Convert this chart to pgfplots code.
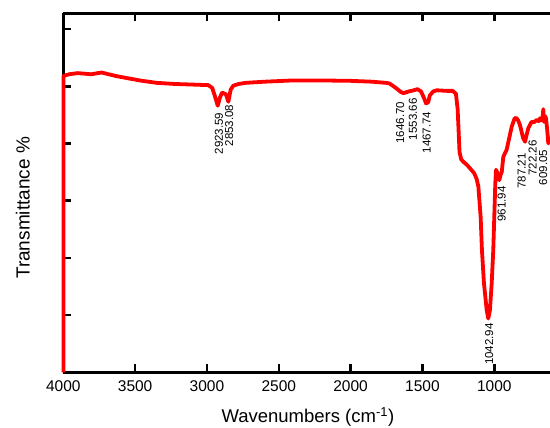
\documentclass[border=0pt]{standalone}
\usepackage{pgfplots}
\pgfplotsset{compat=1.18}
\usepackage{fontspec}
\setmainfont{Liberation Sans}
\begin{document}
\begin{tikzpicture}
\useasboundingbox (0,0) rectangle (550bp,428bp);
\begin{axis}[
  at={(63.3bp,55.7bp)}, anchor=south west,
  scale only axis, width=486.3bp, height=359bp,
  x dir=reverse, xmin=615, xmax=4000, ymin=0, ymax=62.76,
  axis x line*=box, axis y line*=left,
  xtick={1000,1500,...,4000}, ytick={10,20,...,60}, yticklabels={},
  tick align=inside, major tick length=8bp,
  every tick/.style={black, line width=2.5bp},
  axis line style={black, line width=2.5bp, -},
  clip=false,
  tick label style={font=\fontsize{15.5bp}{18bp}\selectfont},
  xticklabel style={yshift=-4.5bp},
  /pgf/number format/assume math mode=true,
  /pgf/number format/1000 sep={},
  xlabel={Wavenumbers (cm\textsuperscript{-1})},
  ylabel={Transmittance \%},
  every axis x label/.style={at={(rel axis cs:0.503,-0.124)}, anchor=center, inner sep=0pt, font=\fontsize{18.5bp}{21bp}\selectfont},
  every axis y label/.style={at={(rel axis cs:-0.083,0.458)}, anchor=center, rotate=90, font=\fontsize{19bp}{22bp}\selectfont},
]
\addplot[color=red, line width=3.8bp, line join=round] coordinates {
(3999,0) (3999,51.8) (3960,52.1) (3900,52.3) (3850,52.2) (3806,52.1) (3760,52.3)
(3732,52.4) (3700,52.2) (3635,51.8) (3550,51.4) (3463,51.0) (3350,50.6) (3220,50.4)
(3100,50.3) (2990,50.2) (2963,49.7) (2945,48.3) (2925,46.6) (2910,48.0) (2895,48.9)
(2885,48.8) (2868,48.6) (2851,47.3) (2835,49.4) (2817,50.1) (2780,50.4) (2731,50.6)
(2600,50.8) (2422,51.0) (2300,51.0) (2150,51.0) (1998,50.95) (1850,50.8) (1754,50.6)
(1730,50.5) (1690,49.8) (1650,49.0) (1633,48.8) (1595,49.1) (1560,49.3) (1535,49.5)
(1510,49.1) (1490,48.0) (1475,47.0) (1460,47.2) (1449,48.4) (1425,49.1) (1400,49.3)
(1331,49.2) (1290,49.2) (1267,48.7) (1255,46.0) (1248,42.0) (1242,38.5) (1230,37.2)
(1215,36.8) (1188,36.2) (1160,35.4) (1140,34.8) (1123,33.8) (1111,32.5) (1095,27.2)
(1086,21.4) (1072,15.6) (1053,10.9) (1042,9.4) (1030,10.9) (1018,15.6) (1007,21.4)
(1000,27.2) (993,33.0) (988,35.4) (980,35.0) (972,34.0) (965,33.6) (955,34.6)
(948,35.0) (937,37.7) (914,38.9) (900,40.5) (879,42.9) (860,44.3) (849,44.5)
(835,44.1) (821,43.2) (800,41.0) (786,40.3) (775,41.5) (763,42.7) (740,43.8)
(725,43.7) (705,44.1) (690,43.9) (682,44.4) (670,44.0) (662,45.0) (659,46.0)
(654,43.8) (647,44.8) (640,44.4) (632,42.5) (624,40.0) (615,41.2)
};
\begin{scope}[every node/.style={rotate=90, anchor=east, inner sep=0pt, font=\fontsize{11.5bp}{13bp}\selectfont}]
\node at (axis cs:2916,45.4) {2923.59};
\node at (axis cs:2845,46.8) {2853.08};
\node at (axis cs:1656,47.3) {1646.70};
\node at (axis cs:1566,47.9) {1553.66};
\node at (axis cs:1471,45.6) {1467.74};
\node at (axis cs:1035,8.6) {1042.94};
\node at (axis cs:948,32.5) {961.94};
\node at (axis cs:809,38.3) {787.21};
\node at (axis cs:733,40.6) {722.26};
\node at (axis cs:659,38.9) {609.05};
\end{scope}
\end{axis}
\end{tikzpicture}
\end{document}
